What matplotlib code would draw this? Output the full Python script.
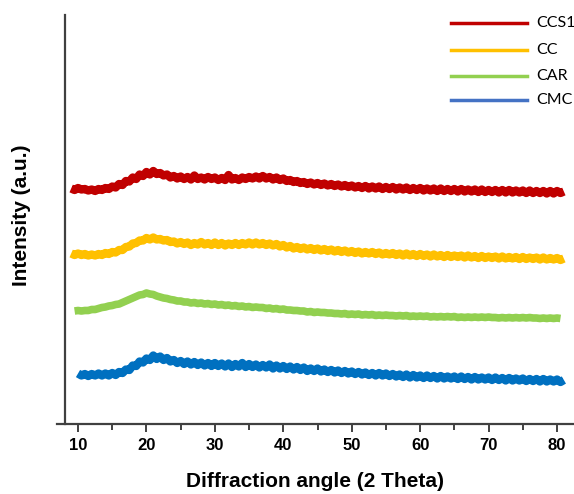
import numpy as np
import matplotlib
matplotlib.use("Agg")
import matplotlib.pyplot as plt
from matplotlib.lines import Line2D

# ---- data (intensity in arbitrary units, offset traces), 0.5 degree steps ----
step = 0.5
ccs1_start = 9.0
ccs1 = [235.5, 234, 236, 234.5, 235, 233.5, 234.5, 233, 235, 234, 236, 235, 237.5, 236.5, 240, 239,
        243, 242.5, 246.5, 245, 249.5, 248, 252, 249.5, 253, 250, 251, 248.5, 249.5, 246.5, 248, 245.5,
        247.5, 245, 247, 244.5, 248.5, 245, 246.5, 244.5, 247, 245, 246.5, 244, 246, 244, 249, 244.5,
        246, 244, 246.5, 245, 247, 245.5, 247.5, 245.5, 248, 245.5, 247, 244.5, 246.5, 244, 245.5, 243,
        244, 242, 243, 241, 242, 240, 241.5, 239.5, 241, 239, 240.5, 238.5, 240, 238, 239.5, 237.5,
        239, 237, 238.5, 236.5, 238, 236, 238, 235.5, 237.5, 235.5, 237.5, 235, 237, 235, 237, 234.5,
        236.5, 234.5, 236.5, 234, 236, 234, 236, 233.5, 235.5, 233.5, 235.5, 233, 235.5, 233, 235, 233,
        235, 232.5, 235, 232.5, 234.5, 232.5, 234.5, 232, 234.5, 232, 234, 232, 234, 231.5, 234, 231.5,
        234, 231.5, 233.5, 231.5, 233.5, 231, 233.5, 231, 233, 231, 233, 230.5, 233, 230.5, 233, 231,
        232.5]

cc_start = 9.0
cc = [170.5, 169, 170.5, 169, 170, 168.5, 169.5, 168.5, 170, 169, 171, 170, 172, 171.5, 174, 174,
      177, 177.5, 180.5, 181, 183.5, 183.5, 186, 184.5, 186.5, 184.5, 185, 183.5, 184, 182, 182.5, 180.5,
      182, 180, 181.5, 179, 181, 179.5, 182, 179.5, 181, 179, 181.5, 179, 181, 178.5, 180.5, 179,
      181, 179, 181, 179.5, 181.5, 179.5, 181.5, 179.5, 181, 179, 180.5, 178.5, 180, 177.5, 179, 176.5,
      178, 175.5, 177, 175, 176.5, 174.5, 176, 174, 175.5, 173.5, 175, 173, 174.5, 172.5, 174, 172,
      173.5, 171.5, 173, 171, 172.5, 170.5, 172, 170.5, 172, 170, 171.5, 169.5, 171, 169.5, 171, 169,
      170.5, 168.5, 170.5, 168.5, 170, 168, 170, 168, 169.5, 167.5, 169.5, 167.5, 169, 167, 169, 167,
      168.5, 167, 168.5, 166.5, 168.5, 166.5, 168, 166, 168, 166, 167.5, 166, 167.5, 165.5, 167.5, 165.5,
      167, 165.5, 167, 165, 167, 165, 166.5, 165, 166.5, 164.5, 166.5, 164.5, 166, 164.5, 166, 164,
      165.5]

car_start = 9.5
car = [113, 113.5, 113, 113.5, 113.5, 114.5, 114.5, 115.5, 116.5, 117, 118, 118.5, 119.5, 120, 121.5, 123,
       124.5, 126, 127.5, 129, 129.5, 131, 130, 129.5, 128, 127, 126, 125.5, 124.5, 124, 123, 123,
       122, 122, 121, 121.5, 120.5, 121, 120, 120.5, 119.5, 120, 119, 119.5, 118.5, 119, 118, 118.5,
       117.5, 118, 117, 117.5, 116.5, 117, 116.5, 116.5, 115.5, 116, 115, 115.5, 114.5, 115, 114, 114,
       113.5, 113.5, 113, 113, 112, 112.5, 111.5, 112, 111.5, 111.5, 111, 111, 110.5, 110.5, 110, 110.5,
       109.5, 110, 109.5, 110, 109, 109.5, 109, 109.5, 108.5, 109, 108.5, 109, 108.5, 108.5, 108, 108.5,
       108, 108.5, 107.5, 108, 107.5, 108, 107.5, 108, 107, 107.5, 107, 107.5, 107, 107.5, 107, 107.5,
       106.5, 107, 106.5, 107, 106.5, 107, 106.5, 107, 106.5, 107, 106.5, 106.5, 106, 106.5, 106, 106.5,
       106, 106.5, 106, 106.5, 106, 106.5, 106, 106, 105.5, 106, 105.5, 106, 105.5, 106, 105.5]

cmc_start = 10.0
cmc = [50.5, 48.5, 50, 48, 50, 48.5, 50.5, 48.5, 50.5, 48.5, 51, 49, 52, 51, 54.5, 54,
       58.5, 58, 62.5, 61.5, 65.5, 64, 68.5, 65, 67.5, 64, 66, 62.5, 64, 61, 63, 60,
       62.5, 59.5, 62, 59, 61.5, 58.5, 61, 58, 61, 58, 60.5, 57.5, 60.5, 57, 60, 57.5,
       61, 57, 60, 57, 59.5, 56.5, 59, 56.5, 59.5, 55.5, 58.5, 55.5, 58, 55, 57.5, 54.5,
       57, 54, 56.5, 53, 55.5, 53, 55.5, 52.5, 54.5, 52, 54, 51.5, 53.5, 51, 53, 50.5,
       52.5, 50, 52, 49.5, 51.5, 49, 51, 48.5, 51, 48.5, 50.5, 48, 50, 47.5, 49.5, 47,
       49.5, 46.5, 49, 46.5, 48.5, 46, 48.5, 46, 48, 45.5, 48, 45.5, 47.5, 45.5, 47.5, 45,
       47.5, 45, 47, 44.5, 47, 44.5, 46.5, 44.5, 46.5, 44, 46.5, 44, 46, 43.5, 46, 43.5,
       45.5, 43.5, 45.5, 43, 45, 43, 45, 42.5, 45, 42.5, 44.5, 42.5, 44.5, 42, 44]

labels = ["CCS1", "CC", "CAR", "CMC"]
line_colors = ["#C00000", "#FFC000", "#92D050", "#0070C0"]
legend_colors = ["#C00000", "#FFC000", "#92D050", "#4472C4"]
line_widths = [6.0, 6.0, 5.5, 6.0]
xticks = [10, 20, 30, 40, 50, 60, 70, 80]

series = [(ccs1_start, ccs1), (cc_start, cc), (car_start, car), (cmc_start, cmc)]

# ---- figure ----
W, H = 574, 494
fig = plt.figure(figsize=(W / 100, H / 100), dpi=100)
ax = fig.add_axes([57 / W, (H - 424) / H, (W - 57) / W, (424 - 15) / H])

for (start, vals), col, lw in zip(series, line_colors, line_widths):
    x = start + step * np.arange(len(vals))
    ax.plot(x, vals, color=col, lw=lw, solid_joinstyle="round", solid_capstyle="butt")

ax.set_xlim(6.93, 82.48)
ax.set_ylim(0, 409)

for s in ["top", "right"]:
    ax.spines[s].set_visible(False)
ax.spines["left"].set_position(("data", 8.03))
ax.spines["left"].set_color("#404040")
ax.spines["bottom"].set_color("#404040")
ax.spines["left"].set_linewidth(1.6)
ax.spines["bottom"].set_linewidth(1.6)
ax.set_yticks([])
ax.set_xticks(xticks)
ax.set_xticks(np.arange(15, 81, 10), minor=True)
ax.tick_params(axis="x", which="major", direction="out", length=6, width=1.4,
               color="#404040", pad=4)
ax.tick_params(axis="x", which="minor", direction="out", length=4, width=1.4, color="#404040")
for lab in ax.get_xticklabels():
    lab.set_fontfamily("Liberation Sans")
    lab.set_fontweight("bold")
    lab.set_fontsize(12)

ax.set_xlabel("Diffraction angle (2 Theta)", fontsize=15, fontweight="bold",
              family="Liberation Sans", labelpad=14)
fig.text(22 / W, 1 - 215 / H, "Intensity (a.u.)", rotation=90, ha="center", va="center",
         fontsize=15, fontweight="bold", family="Liberation Sans")

# legend drawn as lines + texts in figure pixel positions
leg_rows = [23, 50, 76, 100]
for lab, col, yr in zip(labels, legend_colors, leg_rows):
    fig.add_artist(Line2D([451 / W, 527 / W], [1 - yr / H, 1 - yr / H], color=col, lw=2.5,
                          transform=fig.transFigure))
    fig.text(536 / W, 1 - yr / H, lab, ha="left", va="center", fontsize=11.5, family="Lato")

fig.savefig("out.png", dpi=100)
